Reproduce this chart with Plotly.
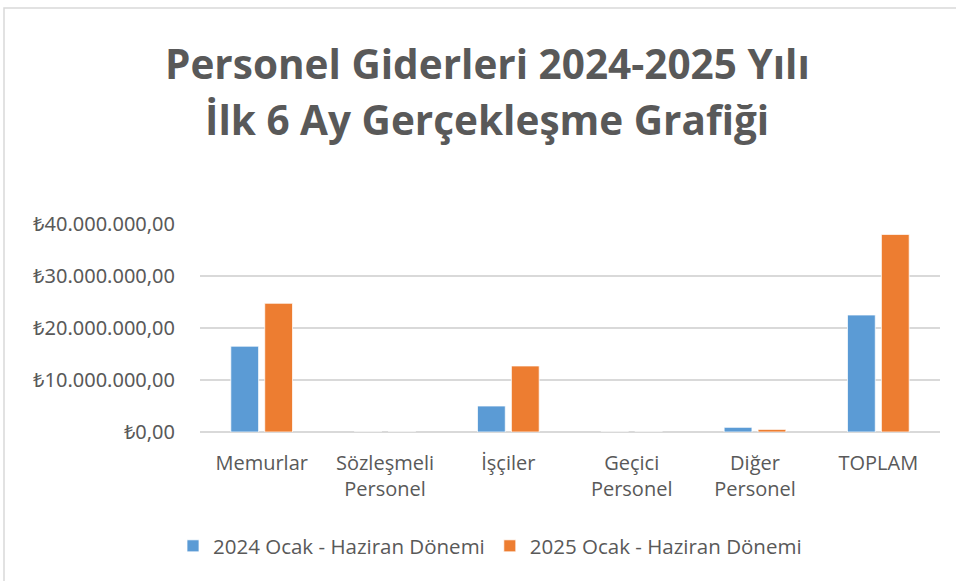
import plotly.graph_objects as go

categories = ["Memurlar", "Sözleşmeli<br>Personel", "İşçiler", "Geçici<br>Personel", "Diğer<br>Personel", "TOPLAM"]
series_2024 = [16500000, 0, 5000000, 0, 900000, 22500000]
series_2025 = [24750000, 0, 12700000, 0, 500000, 38000000]
name_2024 = "2024 Ocak - Haziran Dönemi"
name_2025 = "2025 Ocak - Haziran Dönemi"
title_lines = ["Personel Giderleri 2024-2025 Yılı", "İlk 6 Ay Gerçekleşme Grafiği"]
y_ticks = [0, 10000000, 20000000, 30000000, 40000000]
y_ticktext = ["₺0,00", "₺10.000.000,00", "₺20.000.000,00", "₺30.000.000,00", "₺40.000.000,00"]

W, H = 956, 581
L, R, T, B = 200, 16, 224, 149
pw, ph = W - L - R, H - T - B

def px2paper_x(px):
    return (px - L) / pw

def px2paper_y(py):
    return (H - B - py) / ph

grey = "#595959"
fig = go.Figure()
fig.add_trace(go.Bar(x=categories, y=series_2024, name=name_2024,
                     marker=dict(color="#5B9BD5", line=dict(color="#FFFFFF", width=0.75))))
fig.add_trace(go.Bar(x=categories, y=series_2025, name=name_2025,
                     marker=dict(color="#ED7D31", line=dict(color="#FFFFFF", width=0.75))))

fig.update_layout(
    width=W, height=H,
    margin=dict(l=L, r=R, t=T, b=B),
    paper_bgcolor="white", plot_bgcolor="white",
    barmode="group", bargap=0.45, bargroupgap=0.18,
    separators=",.",
    font=dict(family="Open Sans", color=grey, size=20),
    showlegend=True,
    legend=dict(orientation="h", xref="container", yref="container",
                x=490 / W, xanchor="center", y=1 - 546 / H, yanchor="middle",
                font=dict(family="Open Sans", size=20.5, color=grey),
                itemwidth=30, tracegroupgap=0),
    xaxis=dict(showline=False, ticks="", tickfont=dict(family="Open Sans", size=20, color=grey),
               ticklabelstandoff=17),
    yaxis=dict(range=[0, 40000000], tickvals=y_ticks, ticktext=y_ticktext,
               showgrid=True, gridcolor="#D9D9D9", gridwidth=1.5,
               zeroline=True, zerolinecolor="#D9D9D9", zerolinewidth=1.5,
               showline=False, ticks="",
               tickfont=dict(family="Noto Sans, DejaVu Sans", size=20, color=grey),
               ticklabelstandoff=24),
)

fig.add_annotation(text=title_lines[0], xref="paper", yref="paper",
                   x=px2paper_x(487), y=px2paper_y(63), xanchor="center", yanchor="middle",
                   showarrow=False, font=dict(family="Open Sans", size=40.5, color=grey, weight="bold"))
fig.add_annotation(text=title_lines[1], xref="paper", yref="paper",
                   x=px2paper_x(487), y=px2paper_y(119), xanchor="center", yanchor="middle",
                   showarrow=False, font=dict(family="Open Sans", size=40.5, color=grey, weight="bold"))

fig.add_shape(type="rect", xref="paper", yref="paper",
              x0=px2paper_x(4), x1=px2paper_x(980), y0=px2paper_y(600), y1=px2paper_y(8),
              line=dict(color="#D9D9D9", width=1.5), fillcolor="rgba(0,0,0,0)", layer="below")

fig.write_html("out.html", config={"displayModeBar": False},
               post_script="document.body.style.margin='0';")
